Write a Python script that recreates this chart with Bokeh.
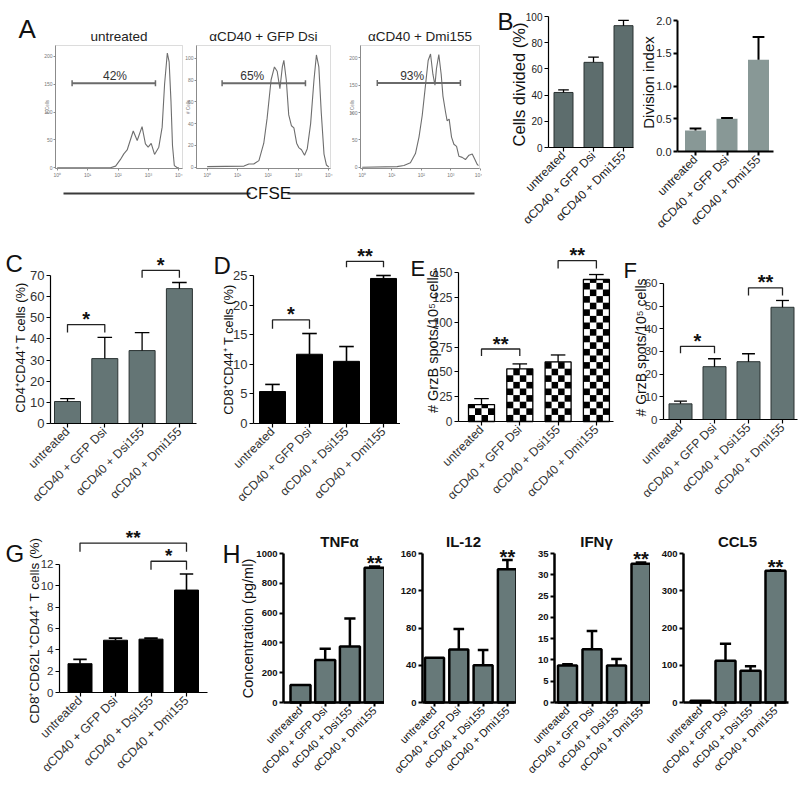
import math
from bokeh.plotting import figure
from bokeh.layouts import row, column
from bokeh.models import Range1d, FixedTicker, Label, BoxAnnotation
from bokeh.embed import file_html
from bokeh.resources import INLINE

FONT = "Liberation Sans"
NARROW = "Liberation Sans Narrow, Liberation Sans"

# ---------------- Panel A : CFSE histograms ----------------
hist_titles = ["untreated", "αCD40 + GFP Dsi", "αCD40 + Dmi155"]
hist_pct = ["42%", "65%", "93%"]
hist_yticks = [[0, 50, 100, 150, 200], [0, 20, 40, 60, 80, 100], [0, 50, 100, 150, 200]]
decade_labels = ["10⁰", "10¹", "10²", "10³", "10⁴"]

hist1_logx = [0.0, 1.75, 1.92, 2.08, 2.19, 2.30, 2.50, 2.63, 2.79, 2.90, 2.99, 3.09, 3.20,
              3.34, 3.45, 3.53, 3.62, 3.68, 3.74, 3.79, 3.85, 3.95, 4.0]
hist1_cells = [0, 0, 3, 15, 25, 32, 66, 49, 74, 43, 37, 44, 24, 37, 73, 150, 206, 190, 120,
               40, 4, 0, 0]
hist2_logx = [0.0, 1.21, 1.37, 1.53, 1.70, 1.86, 1.97, 2.10, 2.21, 2.30, 2.39, 2.47, 2.52,
              2.60, 2.68, 2.77, 2.85, 2.94, 3.01, 3.10, 3.20, 3.29, 3.40, 3.51, 3.59, 3.67,
              3.75, 3.84, 3.92, 4.0]
hist2_cells = [0.5, 1, 3, 3, 6, 22, 45, 80, 92, 88, 72, 92, 98, 80, 48, 38, 36, 22, 18, 16,
               11, 17, 40, 80, 103, 92, 50, 12, 2, 0]
hist3_logx = [0.0, 1.18, 1.41, 1.63, 1.80, 1.92, 2.03, 2.14, 2.23, 2.31, 2.39, 2.46, 2.51,
              2.59, 2.67, 2.73, 2.82, 2.87, 2.94, 3.02, 3.10, 3.19, 3.27, 3.38, 3.49, 3.61,
              3.72, 3.81, 3.89, 3.93]
hist3_cells = [0, 1, 3, 8, 25, 55, 95, 150, 195, 207, 170, 150, 180, 206, 170, 130, 100, 85,
               88, 55, 42, 38, 20, 18, 14, 22, 24, 14, 5, 3]
gate_lo = [0.49, 0.49, 0.51]
gate_hi = [3.23, 3.23, 3.32]
gate_y = [152, 77, 154]
pct_x = [1.90, 1.48, 1.69]

# ---------------- Panel B ----------------
cats3 = ["untreated", "αCD40 + GFP Dsi", "αCD40 + Dmi155"]
cells_divided = [42, 65, 93]
cells_divided_err = [2, 4, 4]
division_index = [0.32, 0.50, 1.40]
division_index_err = [0.03, 0.01, 0.35]

# ---------------- Panels C-H ----------------
cats4 = ["untreated", "αCD40 + GFP Dsi", "αCD40 + Dsi155", "αCD40 + Dmi155"]
c_vals = [10.4, 30.7, 34.5, 63.8]
c_err = [1.4, 10.0, 8.5, 2.9]
c_sig = [(0, 1, 46.8, 43.0, "*"), (2, 3, 72.4, 69.0, "*")]
d_vals = [5.4, 11.7, 10.5, 24.5]
d_err = [1.2, 3.5, 2.5, 0.5]
d_sig = [(0, 1, 17.5, 16.0, "*"), (2, 3, 27.4, 26.4, "**")]
e_vals = [17, 53, 60, 143]
e_err = [6, 5, 7, 5]
e_sig = [(0, 1, 73, 66, "**"), (2, 3, 162, 154, "**")]
f_vals = [6.9, 23.3, 25.5, 49.5]
f_err = [1.2, 3.5, 3.5, 3.0]
f_sig = [(0, 1, 32.3, 29.2, "*"), (2, 3, 58.1, 54.7, "**")]
g_vals = [2.7, 4.9, 5.0, 9.6]
g_err = [0.4, 0.2, 0.1, 1.5]
g_sig = [(0, 3, 14.0, 13.2, "**"), (2, 3, 12.3, 11.5, "*")]
tnfa = [117, 286, 376, 905]
tnfa_err = [0, 74, 187, 7]
il12 = [48, 57, 40, 143]
il12_err = [0, 22, 16.5, 10]
ifng = [8.7, 12.5, 8.7, 32.6]
ifng_err = [0.3, 4.3, 1.5, 0.3]
ccl5 = [4.6, 112, 85, 354]
ccl5_err = [0, 46, 12, 1]
cyto_titles = ["TNFα", "IL-12", "IFNγ", "CCL5"]


# ---------------- helpers ----------------
def dx(g, px):
    return (px - g["xo"]) / g["xs"]


def dy(g, py):
    return (g["yo"] - py) / g["ys"]


def mk(g, axes=True):
    xr = (dx(g, g["x0"]), dx(g, g["x1"]))
    yr = (dy(g, g["y1"]), dy(g, g["y0"]))
    kw = {} if axes else dict(x_axis_location=None, y_axis_location=None)
    p = figure(width=g["x1"] - g["x0"], height=g["y1"] - g["y0"],
               x_range=Range1d(*xr), y_range=Range1d(*yr), min_border=0,
               output_backend="svg", toolbar_location=None, tools="", **kw)
    p.grid.visible = False
    p.outline_line_color = None
    p.background_fill_color = "white"
    p.border_fill_color = "white"
    return p


def lbl(p, g, text, rx, ry, size, align="center", baseline="middle", angle=0.0,
        bold=False, color="#111111"):
    p.add_layout(Label(x=dx(g, rx), y=dy(g, ry), text=text, text_align=align,
                       text_baseline=baseline, angle=angle, text_font=FONT,
                       text_font_size=f"{size}px",
                       text_font_style="bold" if bold else "normal", text_color=color))


def star(p, x, y, text, gap, fs):
    p.add_layout(Label(x=x, y=y, text=text, text_align="center", text_baseline="alphabetic",
                       y_offset=gap - 0.175 * fs, text_font=FONT, text_font_size=f"{fs}px",
                       text_font_style="bold", text_color="#111111"))


def style_axes(p, g, cats, yticks, st, ylabels=None):
    xa, ya = p.xaxis[0], p.yaxis[0]
    for a in (xa, ya):
        a.axis_line_color = "black"
        a.axis_line_width = st["axis_w"]
        a.major_tick_line_color = "black"
        a.major_tick_line_width = st["tick_w"]
        a.major_tick_in = 0
        a.major_tick_out = 4
        a.minor_tick_line_color = None
        a.major_label_text_font = FONT
        a.major_label_text_color = st["label_color"]
    xa.fixed_location = 0
    xa.bounds = (dx(g, g["fl"]), dx(g, g["fr"]))
    xa.ticker = FixedTicker(ticks=list(range(len(cats))))
    xa.major_label_overrides = {i: c for i, c in enumerate(cats)}
    xa.major_label_orientation = math.pi / 4
    xa.major_label_text_font_size = f"{st['xfont']}px"
    xa.major_label_standoff = 2
    ya.fixed_location = dx(g, g["fl"])
    ya.bounds = (0, yticks[-1])
    ya.ticker = FixedTicker(ticks=yticks)
    ya.major_label_text_font = st.get("yfamily", FONT)
    ya.major_label_text_font_size = f"{st['yfont']}px"
    ya.major_label_text_font_style = "bold" if st.get("ybold") else "normal"
    ya.major_label_standoff = 2
    if ylabels:
        ya.major_label_overrides = ylabels


def bar_panel(g, cats, vals, errs, yticks, st, sig=None, ylabels=None, star_fs=20):
    g["xo"], g["xs"], g["yo"], g["ys"] = g["c0"], g["sp"], g["fb"], g["ppu"]
    p = mk(g)
    idx = list(range(len(vals)))
    bw = g["bw"] / g["sp"]
    if st.get("checker"):
        p.vbar(x=idx, top=vals, width=bw, fill_color="white", line_color=None)
        ch = 6.6 / g["ppu"]
        ncol = 4
        cw = bw / ncol
        xs, ys, ws, hs = [], [], [], []
        for i, v in enumerate(vals):
            r = 0
            while r * ch < v:
                y0 = r * ch
                y1 = min(v, y0 + ch)
                for c in range(ncol):
                    if (r + c) % 2 == 0:
                        xs.append(i - bw / 2 + (c + 0.5) * cw)
                        ys.append((y0 + y1) / 2)
                        ws.append(cw)
                        hs.append(y1 - y0)
                r += 1
        p.rect(x=xs, y=ys, width=ws, height=hs, fill_color="black", line_color=None)
        p.vbar(x=idx, top=vals, width=bw, fill_color=None, line_color="black",
               line_width=st["lw"])
    else:
        p.vbar(x=idx, top=vals, width=bw, fill_color=st["fill"], line_color=st["line"],
               line_width=st["lw"])
    ex = [i for i, e in zip(idx, errs) if e > 0]
    ev = [v for v, e in zip(vals, errs) if e > 0]
    et = [v + e for v, e in zip(vals, errs) if e > 0]
    cw = bw * 0.28
    p.segment(x0=ex, y0=ev, x1=ex, y1=et, line_color="black", line_width=st["ew"])
    p.segment(x0=[x - cw for x in ex], y0=et, x1=[x + cw for x in ex], y1=et,
              line_color="black", line_width=st["ew"])
    if sig:
        for (i, j, top, leg, s) in sig:
            p.line([i, i, j, j], [leg, top, top, leg], line_color="#222222", line_width=1.3)
            star(p, (i + j) / 2, top, s, 9, star_fs)
    style_axes(p, g, cats, yticks, st, ylabels)
    return p


def hist_fig(g, logx, cells, k):
    p = mk(g)
    p.add_layout(BoxAnnotation(left=dx(g, g["fl"]), right=dx(g, g["fr"]),
                               bottom=dy(g, g["fb"]), top=dy(g, g["ft"]),
                               fill_alpha=0, line_color="#8c8c8c", line_width=1))
    p.line(logx, cells, line_color="#6e6e6e", line_width=1.1)
    cap = 3.0 / g["ys"]
    p.segment(x0=[gate_lo[k]], y0=[gate_y[k]], x1=[gate_hi[k]], y1=[gate_y[k]],
              line_color="#6a6a6a", line_width=2)
    p.segment(x0=[gate_lo[k], gate_hi[k]], y0=[gate_y[k] - cap] * 2,
              x1=[gate_lo[k], gate_hi[k]], y1=[gate_y[k] + cap] * 2,
              line_color="#6a6a6a", line_width=1.5)
    p.add_layout(Label(x=pct_x[k], y=gate_y[k], text=hist_pct[k], text_align="center",
                       text_baseline="bottom", y_offset=0, text_font=FONT,
                       text_font_size="12px", text_color="#333333"))
    xa, ya = p.xaxis[0], p.yaxis[0]
    for a in (xa, ya):
        a.axis_line_color = "#8c8c8c"
        a.major_tick_line_color = "#8c8c8c"
        a.major_tick_in = 0
        a.major_tick_out = 2
        a.minor_tick_line_color = None
        a.major_label_text_font = FONT
        a.major_label_text_font_size = "5px"
        a.major_label_text_color = "#777777"
        a.major_label_standoff = 1
    xa.fixed_location = dy(g, g["fb"])
    xa.bounds = (dx(g, g["fl"]), dx(g, g["fr"]))
    xa.ticker = FixedTicker(ticks=[0, 1, 2, 3, 4])
    xa.major_label_overrides = {i: s for i, s in enumerate(decade_labels)}
    ya.fixed_location = dx(g, g["fl"])
    ya.bounds = (dy(g, g["fb"]), dy(g, g["ft"]))
    ya.ticker = FixedTicker(ticks=hist_yticks[k])
    lbl(p, g, hist_titles[k], (g["fl"] + g["fr"]) / 2, 36, 13.5, color="#222222")
    lbl(p, g, "# Cells", g["fl"] - 8.5, (g["ft"] + g["fb"]) / 2, 4.5, angle=math.pi / 2,
        color="#777777")
    return p


ROW1 = 238
ROW2 = 518

# ---------------- Panel A ----------------
gA1 = dict(x0=0, x1=184, y0=0, y1=182, fl=55, fr=182, ft=45, fb=168,
           xo=56.7, xs=30.42, yo=167.3, ys=0.557)
gA2 = dict(x0=184, x1=347, y0=0, y1=182, fl=196, fr=330, ft=45, fb=168,
           xo=206.7, xs=30.42, yo=166.7, ys=1.09)
gA3 = dict(x0=347, x1=482, y0=0, y1=182, fl=360, fr=479, ft=45, fb=168,
           xo=361.7, xs=29.58, yo=166.7, ys=0.547)
pA1 = hist_fig(gA1, hist1_logx, hist1_cells, 0)
pA2 = hist_fig(gA2, hist2_logx, hist2_cells, 1)
pA3 = hist_fig(gA3, hist3_logx, hist3_cells, 2)
lbl(pA1, gA1, "A", 18, 28, 26, align="left", baseline="alphabetic")

gCF = dict(x0=0, x1=482, y0=182, y1=ROW1, xo=0, xs=1, yo=ROW1, ys=1)
pCF = mk(gCF, axes=False)
pCF.segment(x0=[63, 287], y0=[dy(gCF, 193)] * 2, x1=[250, 474], y1=[dy(gCF, 193)] * 2,
            line_color="#3a3a3a", line_width=2)
lbl(pCF, gCF, "CFSE", 268, 193, 17)

# ---------------- Panel B ----------------
st_b1 = dict(fill="#5d6d6d", line="#2b3333", lw=1, ew=1.3, axis_w=1.2, tick_w=1.2,
             label_color="#222222", xfont=12, yfont=10, yfamily=NARROW)
st_b2 = dict(fill="#889896", line=None, lw=0, ew=2, axis_w=2, tick_w=2,
             label_color="#222222", xfont=12, yfont=11, yfamily=NARROW)
gB1 = dict(x0=482, x1=634, y0=0, y1=ROW1, fl=548, fr=633, fb=147, c0=563, sp=30,
           ppu=1.31, bw=19)
gB2 = dict(x0=634, x1=800, y0=0, y1=ROW1, fl=677, fr=773, fb=151, c0=695, sp=31.5,
           ppu=65.5, bw=21)
pB1 = bar_panel(gB1, cats3, cells_divided, cells_divided_err, [0, 20, 40, 60, 80, 100], st_b1)
pB2 = bar_panel(gB2, cats3, division_index, division_index_err, [0, 0.5, 1.0, 1.5, 2.0], st_b2,
                ylabels={0: "0.0", 0.5: "0.5", 1: "1.0", 1.5: "1.5", 2: "2.0"})
lbl(pB1, gB1, "B", 497, 21, 24, align="left", baseline="alphabetic")
lbl(pB1, gB1, "Cells divided (%)", 518, 84, 16.5, angle=math.pi / 2)
lbl(pB2, gB2, "Division index", 648, 82, 15, angle=math.pi / 2)

# ---------------- Row 2 ----------------
st_grey = dict(fill="#647575", line="#2b3333", lw=1, ew=1.3, axis_w=1.2, tick_w=1.2,
               label_color="#333333", xfont=12.3, yfont=13, yfamily=NARROW)
st_black = dict(fill="black", line="black", lw=1, ew=1.6, axis_w=1.2, tick_w=1.2,
                label_color="#333333", xfont=12.3, yfont=13, yfamily=NARROW)
st_check = dict(checker=True, lw=1.3, ew=1.3, axis_w=1.2, tick_w=1.2,
                label_color="#333333", xfont=12.3, yfont=12, yfamily=NARROW)
st_f = dict(fill="#647575", line="#2b3333", lw=1, ew=1.3, axis_w=1.2, tick_w=1.2,
            label_color="#333333", xfont=12.3, yfont=11.5, yfamily=NARROW)

gC = dict(x0=0, x1=200, y0=ROW1, y1=ROW2, fl=50, fr=196, fb=423, c0=67, sp=37.3,
          ppu=2.114, bw=26)
gD = dict(x0=200, x1=400, y0=ROW1, y1=ROW2, fl=253, fr=400, fb=423, c0=272, sp=37,
          ppu=5.92, bw=26)
gE = dict(x0=400, x1=615, y0=ROW1, y1=ROW2, fl=458, fr=613, fb=421, c0=481, sp=38.3,
          ppu=0.993, bw=26)
gF = dict(x0=615, x1=800, y0=ROW1, y1=ROW2, fl=663, fr=797, fb=419, c0=680, sp=34,
          ppu=2.267, bw=23)
pC = bar_panel(gC, cats4, c_vals, c_err, [0, 10, 20, 30, 40, 50, 60, 70], st_grey, c_sig)
pD = bar_panel(gD, cats4, d_vals, d_err, [0, 5, 10, 15, 20, 25], st_black, d_sig)
pE = bar_panel(gE, cats4, e_vals, e_err, [0, 25, 50, 75, 100, 125, 150], st_check, e_sig)
pF = bar_panel(gF, cats4, f_vals, f_err, [0, 10, 20, 30, 40, 50, 60], st_f, f_sig)
lbl(pC, gC, "C", 5, 263, 24, align="left", baseline="alphabetic")
lbl(pD, gD, "D", 213, 265, 24, align="left", baseline="alphabetic")
lbl(pE, gE, "E", 410, 268, 22, align="left", baseline="alphabetic")
lbl(pF, gF, "F", 623, 270, 22, align="left", baseline="alphabetic")
lbl(pC, gC, "CD4⁺CD44⁺ T cells (%)", 20, 347, 12.8, angle=math.pi / 2)
lbl(pD, gD, "CD8⁺CD44⁺ T cells (%)", 228, 349, 12.8, angle=math.pi / 2)
lbl(pE, gE, "# GrzB spots/10⁵ cells", 432, 341, 14.5, angle=math.pi / 2)
lbl(pF, gF, "# GrzB spots/10⁵ cells", 640, 347, 14, angle=math.pi / 2)

# ---------------- Row 3 ----------------
st_g = dict(fill="black", line="black", lw=1, ew=1.6, axis_w=1.2, tick_w=1.2,
            label_color="#333333", xfont=12.5, yfont=11.5, yfamily=NARROW)
st_h = dict(fill="#677979", line="black", lw=2.5, ew=2.5, axis_w=2.5, tick_w=2,
            label_color="#111111", xfont=11, yfont=9.5, ybold=True)
gG = dict(x0=0, x1=215, y0=ROW2, y1=787, fl=59, fr=207, fb=692, c0=79.5, sp=35.5,
          ppu=10.67, bw=24)
pG = bar_panel(gG, cats4, g_vals, g_err, [0, 2, 4, 6, 8, 10, 12], st_g, g_sig, star_fs=19)
lbl(pG, gG, "G", 5, 553, 24, align="left", baseline="alphabetic")
lbl(pG, gG, "CD8⁺CD62L⁺CD44⁺ T cells (%)", 34, 630, 13.5, angle=math.pi / 2)

gT = dict(x0=215, x1=384, y0=ROW2, y1=787, fl=283, fr=384, fb=702, c0=300, sp=24.7,
          ppu=0.149, bw=20)
gI = dict(x0=384, x1=516, y0=ROW2, y1=787, fl=422, fr=514, fb=702, c0=434, sp=24.3,
          ppu=149 / 160, bw=19)
gN = dict(x0=516, x1=650, y0=ROW2, y1=787, fl=554, fr=648, fb=702, c0=567, sp=24.5,
          ppu=149 / 35, bw=19)
gL = dict(x0=650, x1=800, y0=ROW2, y1=787, fl=683, fr=788, fb=702, c0=700, sp=25,
          ppu=149 / 400, bw=20)
cyto = [(gT, tnfa, tnfa_err, [0, 200, 400, 600, 800, 1000]),
        (gI, il12, il12_err, [0, 40, 80, 120, 160]),
        (gN, ifng, ifng_err, [0, 5, 10, 15, 20, 25, 30, 35]),
        (gL, ccl5, ccl5_err, [0, 100, 200, 300, 400])]
pH = []
for k, (g, v, e, t) in enumerate(cyto):
    p = bar_panel(g, cats4, v, e, t, st_h)
    star(p, 3, v[3] + e[3], "**", 7, 20)
    lbl(p, g, cyto_titles[k], [339, 463, 596, 737][k], 541, 15, bold=True)
    pH.append(p)
lbl(pH[0], gT, "H", 222, 553, 25, align="left", baseline="alphabetic")
lbl(pH[0], gT, "Concentration (pg/ml)", 247, 628, 14.5, angle=math.pi / 2)

layout = column(
    row(column(row(pA1, pA2, pA3), pCF), pB1, pB2),
    row(pC, pD, pE, pF),
    row(pG, *pH),
)

open("out.html", "w").write(file_html(layout, INLINE))
